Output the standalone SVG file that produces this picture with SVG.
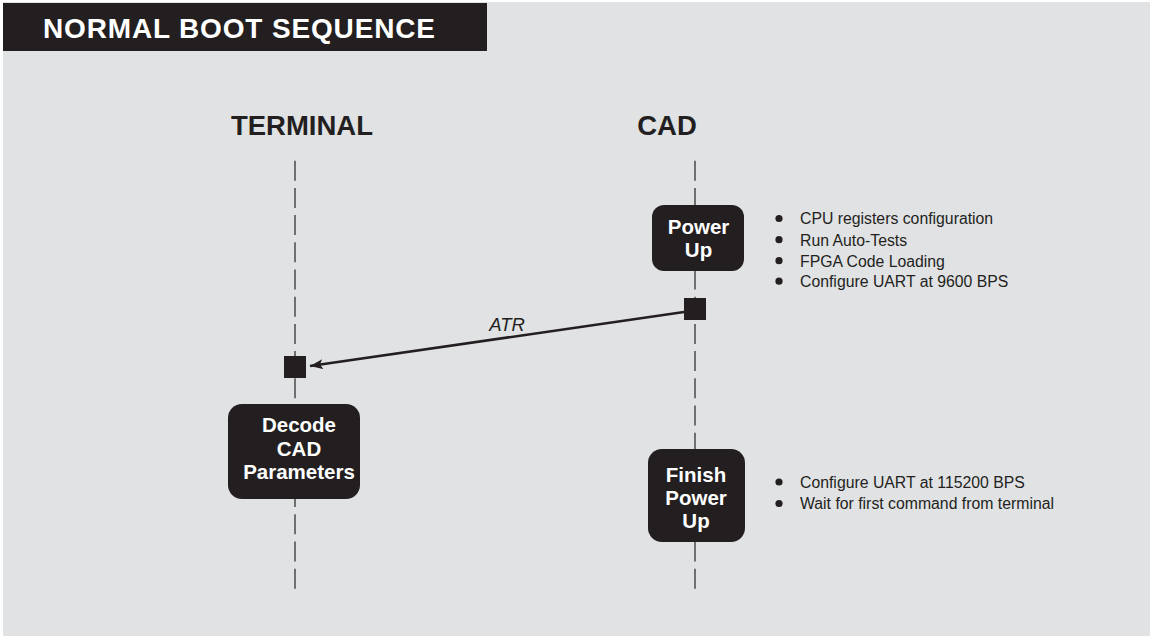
<svg xmlns="http://www.w3.org/2000/svg" width="1150" height="636" viewBox="0 0 1150 636">
<defs>
<style>
.bg{fill:#e1e2e4}
.box{fill:#231f20}
.boxt{font-family:"Liberation Sans",Arial,sans-serif;font-weight:bold;font-size:20.5px;fill:#ffffff;text-anchor:middle}
.hdr{font-family:"Liberation Sans",Arial,sans-serif;font-weight:bold;font-size:27.5px;fill:#231f20;text-anchor:middle}
.bul{font-family:"Liberation Sans",Arial,sans-serif;font-size:15.8px;fill:#231f20}
.life{stroke:#4a4a4a;stroke-width:1.5;stroke-dasharray:20 7.2;fill:none}
.conn{stroke:#231f20;stroke-width:2.5;fill:none}
.dot{fill:#231f20}
</style>
<marker id="ah" markerUnits="userSpaceOnUse" markerWidth="16" markerHeight="12" refX="13" refY="5" orient="auto">
<path d="M0,0 L13,5 L0,10 L3,5 z" fill="#231f20"/>
</marker>
</defs>
<rect x="0" y="0" width="1150" height="636" fill="#ffffff"/>
<rect class="bg" x="3" y="2" width="1147" height="634"/>
<g id="title">
<rect x="3" y="3" width="484" height="48" fill="#231f20"/>
<text x="43" y="37.5" font-family="Liberation Sans, Arial, sans-serif" font-weight="bold" font-size="28" fill="#ffffff" textLength="392" lengthAdjust="spacing">NORMAL BOOT SEQUENCE</text>
</g>
<g id="lifelines">
<line class="life" x1="295" y1="160.7" x2="295" y2="589.5"/>
<line class="life" x1="695" y1="160.7" x2="695" y2="589.5"/>
</g>
<g id="terminal-header"><text class="hdr" x="302" y="135">TERMINAL</text></g>
<g id="cad-header"><text class="hdr" x="667" y="135">CAD</text></g>
<g id="connectors">
<line class="conn" x1="684" y1="312" x2="310" y2="366" marker-end="url(#ah)"/>
<text x="507" y="330.5" font-family="Liberation Sans, Arial, sans-serif" font-style="italic" font-size="18.5" fill="#231f20" text-anchor="middle">ATR</text>
</g>
<g id="power-up">
<rect class="box" x="652" y="205" width="92" height="66" rx="12"/>
<text class="boxt" x="698.5" y="234">Power</text>
<text class="boxt" x="698.5" y="256.7">Up</text>
</g>
<g id="power-up-notes">
<circle class="dot" cx="779" cy="218.5" r="3.6"/>
<text class="bul" x="800" y="224.3">CPU registers configuration</text>
<circle class="dot" cx="779" cy="239.7" r="3.6"/>
<text class="bul" x="800" y="245.5">Run Auto-Tests</text>
<circle class="dot" cx="779" cy="260.7" r="3.6"/>
<text class="bul" x="800" y="266.5">FPGA Code Loading</text>
<circle class="dot" cx="779" cy="281.2" r="3.6"/>
<text class="bul" x="800" y="287">Configure UART at 9600 BPS</text>
</g>
<g id="cad-send"><rect class="box" x="684" y="298" width="22" height="22"/></g>
<g id="terminal-receive"><rect class="box" x="284" y="356" width="22" height="22"/></g>
<g id="decode">
<rect class="box" x="228" y="404" width="132" height="95" rx="14"/>
<text class="boxt" x="299" y="431.7">Decode</text>
<text class="boxt" x="299" y="455.5">CAD</text>
<text class="boxt" x="299" y="479">Parameters</text>
</g>
<g id="finish-power-up">
<rect class="box" x="648" y="449" width="97" height="93" rx="14"/>
<text class="boxt" x="696" y="481.7">Finish</text>
<text class="boxt" x="696" y="505">Power</text>
<text class="boxt" x="696" y="528.3">Up</text>
</g>
<g id="finish-notes">
<circle class="dot" cx="779" cy="482" r="3.6"/>
<text class="bul" x="800" y="487.7">Configure UART at 115200 BPS</text>
<circle class="dot" cx="779" cy="503.5" r="3.6"/>
<text class="bul" x="800" y="509.3">Wait for first command from terminal</text>
</g>
</svg>
